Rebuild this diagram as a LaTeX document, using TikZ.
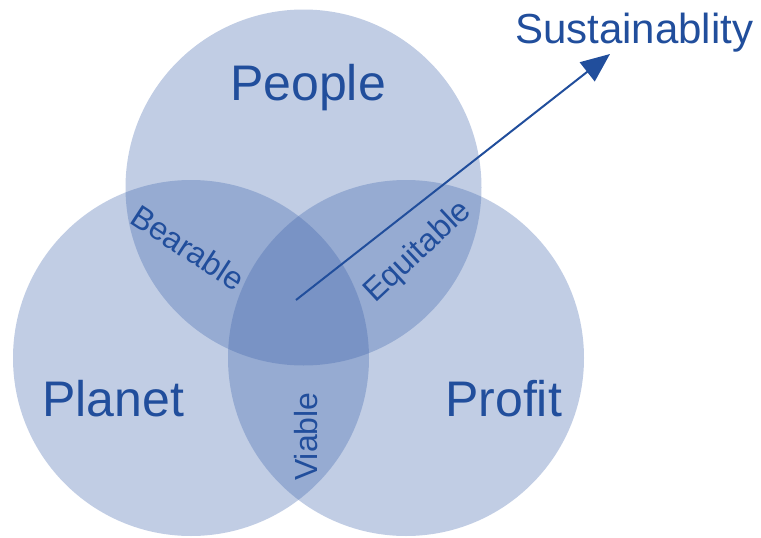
\documentclass[tikz,border=0pt]{standalone}
\usepackage{fontspec}
\setmainfont{Liberation Sans}
\usetikzlibrary{arrows.meta}
\definecolor{vennfill}{RGB}{61,99,171}
\definecolor{txtblue}{RGB}{33,78,156}
\tikzset{
  circ/.style={circle, minimum size=356pt, inner sep=0pt, fill=vennfill, fill opacity=0.32, draw=none},
  bigtxt/.style={text=txtblue, inner sep=0pt, anchor=base west, font=\fontsize{50}{60}\selectfont},
  midtxt/.style={text=txtblue, inner sep=0pt, anchor=base west, font=\fontsize{42}{50}\selectfont},
  smalltxt/.style={text=txtblue, inner sep=0pt, anchor=base west, font=\fontsize{32}{38}\selectfont},
  arrowline/.style={draw=txtblue, line width=2pt, -{Triangle[length=29pt,width=24pt]}}
}
\begin{document}
\begin{tikzpicture}[x=1pt,y=-1pt]
\useasboundingbox (0,0) rectangle (761,538);
\node[circ] (people) at (303.5,187.5) {};
\node[circ] (planet) at (191,358) {};
\node[circ] (profit) at (406,358) {};
\node[bigtxt] (tpeople) at (230,100) {People};
\node[bigtxt] (tplanet) at (42,416) {Planet};
\node[bigtxt] (tprofit) at (445,416) {Profit};
\node[midtxt] (tsust) at (515,43) {Sustainablity};
\node[smalltxt, rotate=-33] (tbear) at (128,222) {Bearable};
\node[smalltxt, rotate=43] (tequi) at (375,304) {Equitable};
\node[smalltxt, rotate=90] (tvia) at (317,481) {Viable};
\coordinate (astart) at (296,300);
\coordinate (aend) at (610,54);
\draw[arrowline] (astart) -- (aend);
\end{tikzpicture}
\end{document}
